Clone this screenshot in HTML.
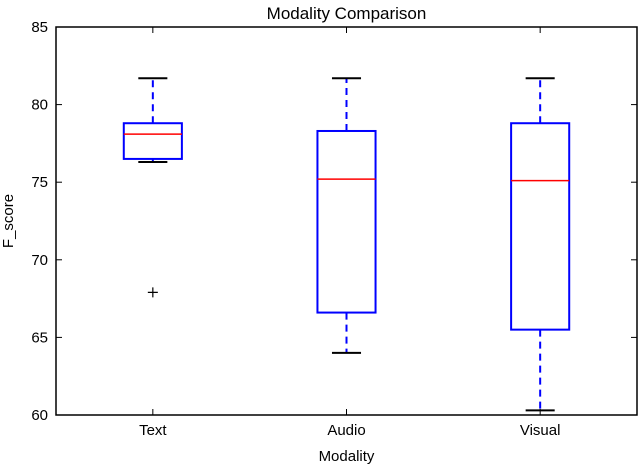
<!DOCTYPE html>
<html><head><meta charset="utf-8"><style>body{margin:0;background:#fff}svg{display:block}text{font-family:"Liberation Sans",sans-serif;fill:#000}</style></head>
<body>
<svg id="c" width="640" height="465"></svg>
<script>
const categories=["Text","Audio","Visual"];
const whiskerHigh=[81.7,81.7,81.7];
const q3=[78.8,78.3,78.8];
const median=[78.1,75.2,75.1];
const q1=[76.5,66.6,65.5];
const whiskerLow=[76.3,64.0,60.3];
const outliers=[[67.9],[],[]];
const yTicks=[60,65,70,75,80,85];
const L=56,R=637,T=27,B=415;
const y=v=>B-(v-60)/25*(B-T);
const x=i=>L+(i+0.5)/3*(R-L);
const bw=0.3/3*(R-L);
const svg=document.getElementById('c');
const NS='http://www.w3.org/2000/svg';
function add(tag,a,name,parent){const e=document.createElementNS(NS,tag);for(const k in a)e.setAttribute(k,a[k]);


(parent||svg).appendChild(e);return e;}
add('rect',{x:L,y:T,width:R-L,height:B-T,fill:'none',stroke:'#000','stroke-width':1.5},'plot-frame');
yTicks.forEach(t=>{add('line',{x1:L,x2:L+6,y1:y(t),y2:y(t),stroke:'#000'},'y-tick');add('line',{x1:R-6,x2:R,y1:y(t),y2:y(t),stroke:'#000'},'y-tick-right');
const tx=add('text',{x:L-8,y:y(t)+5,'text-anchor':'end','font-size':15},'y-tick-label');tx.textContent=t;});
categories.forEach((c,i)=>{const cx=x(i);
add('line',{x1:cx,x2:cx,y1:B,y2:B-6,stroke:'#000'},'x-tick');add('line',{x1:cx,x2:cx,y1:T,y2:T+6,stroke:'#000'},'x-tick-top');
const tx=add('text',{x:cx,y:B+20,'text-anchor':'middle','font-size':15},'x-tick-label');tx.textContent=c;
const g=add('g',{},'box-'+c.toLowerCase());
add('line',{x1:cx,x2:cx,y1:y(q3[i]),y2:y(whiskerHigh[i]),stroke:'#00f','stroke-width':2,'stroke-dasharray':'7,5'},'upper-whisker',g);
add('line',{x1:cx,x2:cx,y1:y(q1[i]),y2:y(whiskerLow[i]),stroke:'#00f','stroke-width':2,'stroke-dasharray':'7,5'},'lower-whisker',g);
add('line',{x1:cx-bw/4,x2:cx+bw/4,y1:y(whiskerHigh[i]),y2:y(whiskerHigh[i]),stroke:'#000','stroke-width':2},'upper-cap',g);
add('line',{x1:cx-bw/4,x2:cx+bw/4,y1:y(whiskerLow[i]),y2:y(whiskerLow[i]),stroke:'#000','stroke-width':2},'lower-cap',g);
add('rect',{x:cx-bw/2,y:y(q3[i]),width:bw,height:y(q1[i])-y(q3[i]),fill:'none',stroke:'#00f','stroke-width':2},'iqr-box',g);
add('line',{x1:cx-bw/2,x2:cx+bw/2,y1:y(median[i]),y2:y(median[i]),stroke:'#f00','stroke-width':1.5},'median-line',g);
outliers[i].forEach(o=>{add('path',{d:`M${cx-5},${y(o)}H${cx+5}M${cx},${y(o)-5}V${y(o)+5}`,stroke:'#000','stroke-width':1.2},'outlier',g);});
});
let t=add('text',{x:(L+R)/2,y:19,'text-anchor':'middle','font-size':17},'chart-title');t.textContent='Modality Comparison';
t=add('text',{x:(L+R)/2,y:461,'text-anchor':'middle','font-size':15},'x-axis-title');t.textContent='Modality';
t=add('text',{x:0,y:0,'text-anchor':'middle','font-size':15,transform:`translate(13,${(T+B)/2}) rotate(-90)`},'y-axis-title');t.textContent='F_score';
</script>
</body></html>
